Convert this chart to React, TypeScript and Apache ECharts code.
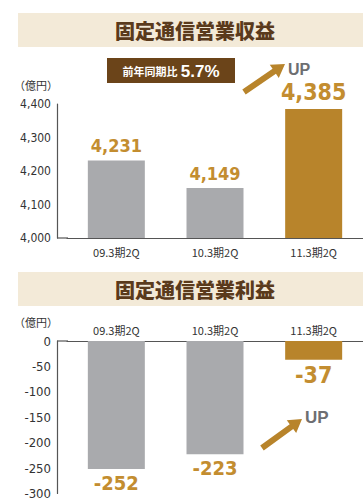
import React, { useEffect, useRef } from "react";
import * as echarts from "echarts";

const categories = ["09.3期2Q", "10.3期2Q", "11.3期2Q"];
const revenue = [4231, 4149, 4385];
const profit = [-252, -223, -37];
const revenueTicks = { min: 4000, max: 4400, interval: 100 };
const profitTicks = { min: -300, max: 0, interval: 50 };
const titleRevenue = "固定通信営業収益";
const titleProfit = "固定通信営業利益";
const unitLabel = "（億円）";
const badgeLabel = "前年同期比";
const badgeValue = "5.7%";
const upLabel = "UP";

const GRAY = "#a9aaad";
const GOLD = "#b8842b";
const LABEL_GOLD = "#c38d30";
const BROWN = "#5a3a1c";
const NARROW = "'DejaVu Sans Condensed', 'Liberation Sans Narrow', 'Liberation Sans', sans-serif";
const CJK = "'Noto Sans CJK JP', 'Noto Sans', sans-serif";

function arrowPts(x1: number, y1: number, x2: number, y2: number, sw: number, hw: number, hl: number) {
  const dx = x2 - x1, dy = y2 - y1;
  const L = Math.hypot(dx, dy);
  const ux = dx / L, uy = dy / L;
  const nx = -uy, ny = ux;
  const bx = x2 - ux * hl, by = y2 - uy * hl;
  return [
    [x1 + (nx * sw) / 2, y1 + (ny * sw) / 2],
    [bx + (nx * sw) / 2, by + (ny * sw) / 2],
    [bx + (nx * hw) / 2, by + (ny * hw) / 2],
    [x2, y2],
    [bx - (nx * hw) / 2, by - (ny * hw) / 2],
    [bx - (nx * sw) / 2, by - (ny * sw) / 2],
    [x1 - (nx * sw) / 2, y1 - (ny * sw) / 2],
  ];
}

const fmt = (v: number) => v.toLocaleString("en-US");

export default function App() {
  const ref = useRef<HTMLDivElement>(null);
  useEffect(() => {
    if (!ref.current) return;
    const chart = echarts.init(ref.current, undefined, { renderer: "svg" });
    const last = categories.length - 1;
    const option: any = {
      animation: false,
      backgroundColor: "#ffffff",
      grid: [
        { left: 67, right: -1, top: 104, height: 134 },
        { left: 67, right: -1, top: 341, height: 154 },
      ],
      xAxis: [
        {
          type: "category",
          gridIndex: 0,
          data: categories,
          axisLine: { lineStyle: { color: "#555", width: 1.2 } },
          axisTick: { show: false },
          axisLabel: { color: "#333", fontSize: 11, fontFamily: CJK, margin: 8 },
        },
        {
          type: "category",
          gridIndex: 1,
          position: "top",
          data: categories,
          axisLine: { onZero: false, lineStyle: { color: "#555", width: 1.2 } },
          axisTick: { show: false },
          axisLabel: { color: "#333", fontSize: 11, fontFamily: CJK, margin: 6 },
        },
      ],
      yAxis: [
        {
          type: "value",
          gridIndex: 0,
          ...revenueTicks,
          offset: 10,
          axisLine: { show: true, lineStyle: { color: "#555", width: 1.2 } },
          axisTick: { show: false },
          splitLine: { show: false },
          axisLabel: { color: "#333", fontSize: 12, fontFamily: NARROW, margin: 6, formatter: fmt },
        },
        {
          type: "value",
          gridIndex: 1,
          ...profitTicks,
          offset: 10,
          axisLine: { show: true, lineStyle: { color: "#555", width: 1.2 } },
          axisTick: { show: false },
          splitLine: { show: false },
          axisLabel: { color: "#333", fontSize: 13, fontFamily: NARROW, margin: 6 },
        },
      ],
      series: [
        {
          type: "bar",
          xAxisIndex: 0,
          yAxisIndex: 0,
          barWidth: 57,
          data: revenue.map((v, i) => ({
            value: v,
            itemStyle: { color: i === last ? GOLD : GRAY },
            label: { fontSize: i === last ? 23 : 18 },
          })),
          label: {
            show: true,
            position: "top",
            distance: 6,
            color: LABEL_GOLD,
            fontWeight: "bold",
            fontFamily: NARROW,
            formatter: (p: any) => fmt(p.value),
          },
        },
        {
          type: "bar",
          xAxisIndex: 1,
          yAxisIndex: 1,
          barWidth: 57,
          data: profit.map((v, i) => ({
            value: v,
            itemStyle: { color: i === last ? GOLD : GRAY },
            label: { fontSize: i === last ? 23 : 20 },
          })),
          label: {
            show: true,
            position: "bottom",
            distance: 4,
            color: LABEL_GOLD,
            fontWeight: "bold",
            fontFamily: NARROW,
          },
        },
      ],
      graphic: [
        { type: "rect", shape: { x: 18, y: 13, width: 345, height: 34 }, style: { fill: "#f3ead8" } },
        {
          type: "text",
          x: 195,
          y: 30,
          style: { text: titleRevenue, fill: BROWN, font: `900 20px ${CJK}`, align: "center", verticalAlign: "middle" },
        },
        { type: "rect", shape: { x: 107, y: 58, width: 128, height: 25 }, style: { fill: "#6b4419" } },
        {
          type: "text",
          x: 171,
          y: 71,
          style: {
            text: `{a|${badgeLabel}} {b|${badgeValue}}`,
            align: "center",
            verticalAlign: "middle",
            rich: {
              a: { fill: "#fff", fontSize: 11, fontWeight: "bold", fontFamily: CJK },
              b: { fill: "#fff", fontSize: 17, fontWeight: "bold", fontFamily: "'Liberation Sans', Arial, sans-serif" },
            },
          },
        },
        { type: "polygon", shape: { points: arrowPts(244, 92, 285, 64, 6, 16, 13) }, style: { fill: GOLD } },
        {
          type: "text",
          x: 288,
          y: 69,
          style: { text: upLabel, fill: "#6d6e71", font: "bold 16px 'Liberation Sans', Arial, sans-serif", verticalAlign: "middle" },
        },
        { type: "text", x: 14, y: 85, style: { text: unitLabel, fill: "#333", font: `11px ${CJK}`, verticalAlign: "middle" } },
        { type: "line", shape: { x1: 57, y1: 238, x2: 68, y2: 238 }, style: { stroke: "#555", lineWidth: 1.2 } },

        { type: "rect", shape: { x: 18, y: 272, width: 345, height: 34 }, style: { fill: "#f3ead8" } },
        {
          type: "text",
          x: 195,
          y: 289,
          style: { text: titleProfit, fill: BROWN, font: `900 20px ${CJK}`, align: "center", verticalAlign: "middle" },
        },
        { type: "text", x: 14, y: 322, style: { text: unitLabel, fill: "#333", font: `11px ${CJK}`, verticalAlign: "middle" } },
        { type: "line", shape: { x1: 57, y1: 341, x2: 68, y2: 341 }, style: { stroke: "#555", lineWidth: 1.2 } },
        { type: "polygon", shape: { points: arrowPts(262, 448, 302, 419, 6, 16, 13) }, style: { fill: GOLD } },
        {
          type: "text",
          x: 305,
          y: 417,
          style: { text: upLabel, fill: "#6d6e71", font: "bold 17px 'Liberation Sans', Arial, sans-serif", verticalAlign: "middle" },
        },
      ],
    };
    chart.setOption(option);
    return () => chart.dispose();
  }, []);
  return <div ref={ref} style={{ position: "absolute", left: 0, top: 0, width: 363, height: 500 }} />;
}
